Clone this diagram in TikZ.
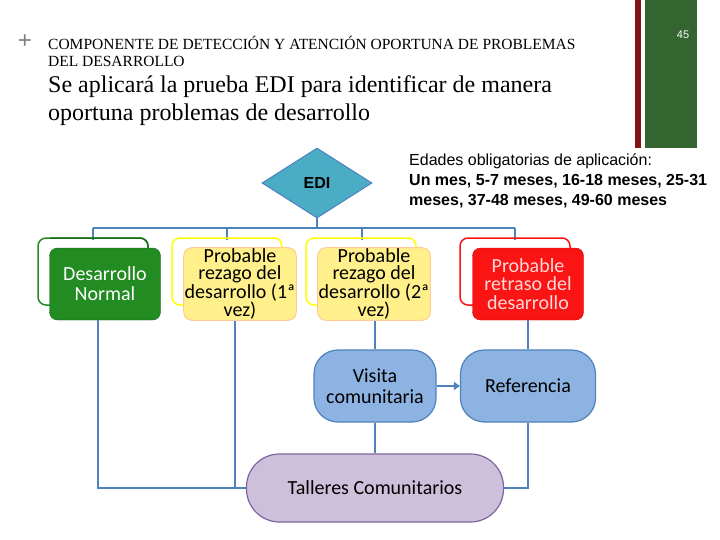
\documentclass[tikz,border=0pt]{standalone}
\usepackage{fontspec}
\setmainfont{Liberation Serif}
\newfontfamily\sans{Liberation Sans}
\newfontfamily\cg{Carlito}
\usetikzlibrary{shapes.geometric,arrows.meta}
\definecolor{ln}{RGB}{79,129,189}
\definecolor{bl}{RGB}{141,179,226}
\definecolor{dia}{RGB}{75,172,198}
\definecolor{gr}{RGB}{34,139,34}
\definecolor{ye}{RGB}{255,240,140}
\definecolor{yo}{RGB}{255,255,0}
\definecolor{rd}{RGB}{250,20,20}
\definecolor{pu}{RGB}{204,192,218}
\definecolor{pul}{RGB}{128,100,162}
\definecolor{hg}{RGB}{52,100,48}
\definecolor{hr}{RGB}{130,20,20}
\begin{document}
\begin{tikzpicture}[x=1pt,y=-1pt,
 conn/.style={draw=ln,line width=2.2pt},
 outl/.style={draw,line width=1.5pt,rounded corners=8pt},
 fillb/.style={rounded corners=8pt,minimum width=111pt,minimum height=72pt,align=center,font=\cg\fontsize{20}{16.5}\selectfont,inner sep=1pt},
 pill/.style={rounded corners=24pt,fill=bl,draw=ln,line width=1.2pt,align=center,font=\cg\fontsize{20}{21}\selectfont}]
\useasboundingbox (0,0) rectangle (720,540);
\fill[hr] (635,0) rectangle (641,148);
\fill[hg] (645,0) rectangle (697,148);
\node[text=white,font=\sans\fontsize{11}{12}\selectfont] (pg) at (683,35) {45};
\node[text=gray,font=\sans\fontsize{24}{24}\selectfont] (plus) at (25,42) {+};
\node[anchor=north west,align=left,font=\fontsize{15.5}{17}\selectfont,inner sep=0] (t1) at (48,36) {COMPONENTE DE DETECCIÓN Y ATENCIÓN OPORTUNA DE PROBLEMAS\\DEL DESARROLLO};
\node[anchor=north west,align=left,font=\fontsize{24}{28}\selectfont,inner sep=0] (t2) at (48,75) {Se aplicará la prueba EDI para identificar de manera\\oportuna problemas de desarrollo};
\node[anchor=north west,align=left,font=\sans\fontsize{16}{20}\selectfont,inner sep=0] (ed) at (409,154) {Edades obligatorias de aplicación:\\\bfseries Un mes, 5-7 meses, 16-18 meses, 25-31\\\bfseries meses, 37-48 meses, 49-60 meses};
% bus
\draw[conn] (93,228) -- (515,228);
\draw[conn] (317,218) -- (317,228);
\foreach \x in {93,227,362,515}{\draw[conn] (\x,228) -- (\x,240);}
\node[diamond,fill=dia,draw=ln,line width=1pt,minimum width=110pt,minimum height=70pt,inner sep=0,font=\sans\bfseries\fontsize{16}{16}\selectfont] (edi) at (317,183) {EDI};
% outlines
\draw[outl,gr] (38,238) rectangle (148,305);
\draw[outl,yo] (172,238) rectangle (282,305);
\draw[outl,yo] (306,238) rectangle (416,305);
\draw[outl,rd] (460,238) rectangle (570,305);
\node[fillb,fill=gr,draw=gr!70!black,text=white,font=\cg\fontsize{20}{20}\selectfont] (dn) at (105,284) {Desarrollo\\Normal};
\node[fillb,fill=ye,draw=orange!40,line width=1pt] (p1) at (240,284) {Probable\\rezago del\\desarrollo (1ª\\vez)};
\node[fillb,fill=ye,draw=orange!40,line width=1pt] (p2) at (374,284) {Probable\\rezago del\\desarrollo (2ª\\vez)};
\node[fillb,fill=rd,draw=red!80!black,text=white!85!red,font=\cg\fontsize{20}{18.5}\selectfont] (pr) at (528,284) {Probable\\retraso del\\desarrollo};
\draw[outl,gr!80!black] (50,238) -- (148,238) -- (148,248);
% lower nodes
\node[pill,minimum width=122pt,minimum height=72pt] (vc) at (375,386) {Visita\\comunitaria};
\node[pill,minimum width=135pt,minimum height=72pt] (rf) at (528,386) {Referencia};
\node[pill,fill=pu,draw=pul,rounded corners=33pt,minimum width=257pt,minimum height=68pt] (tc) at (375,488) {Talleres Comunitarios};
\draw[conn] (dn.south -| 98,0) -- (98,488) -- (tc.west);
\draw[conn] (p1.south -| 235,0) -- (235,488);
\draw[conn] (vc.north) -- (vc.north |- p2.south);
\draw[conn] (rf.north) -- (rf.north |- pr.south);
\draw[conn] (vc.south) -- (tc.north);
\draw[conn] (rf.south) -- (528,488) -- (tc.east);
\draw[conn,-{Triangle[length=6pt,width=8pt]}] (vc.east) -- (rf.west);
\end{tikzpicture}
\end{document}
